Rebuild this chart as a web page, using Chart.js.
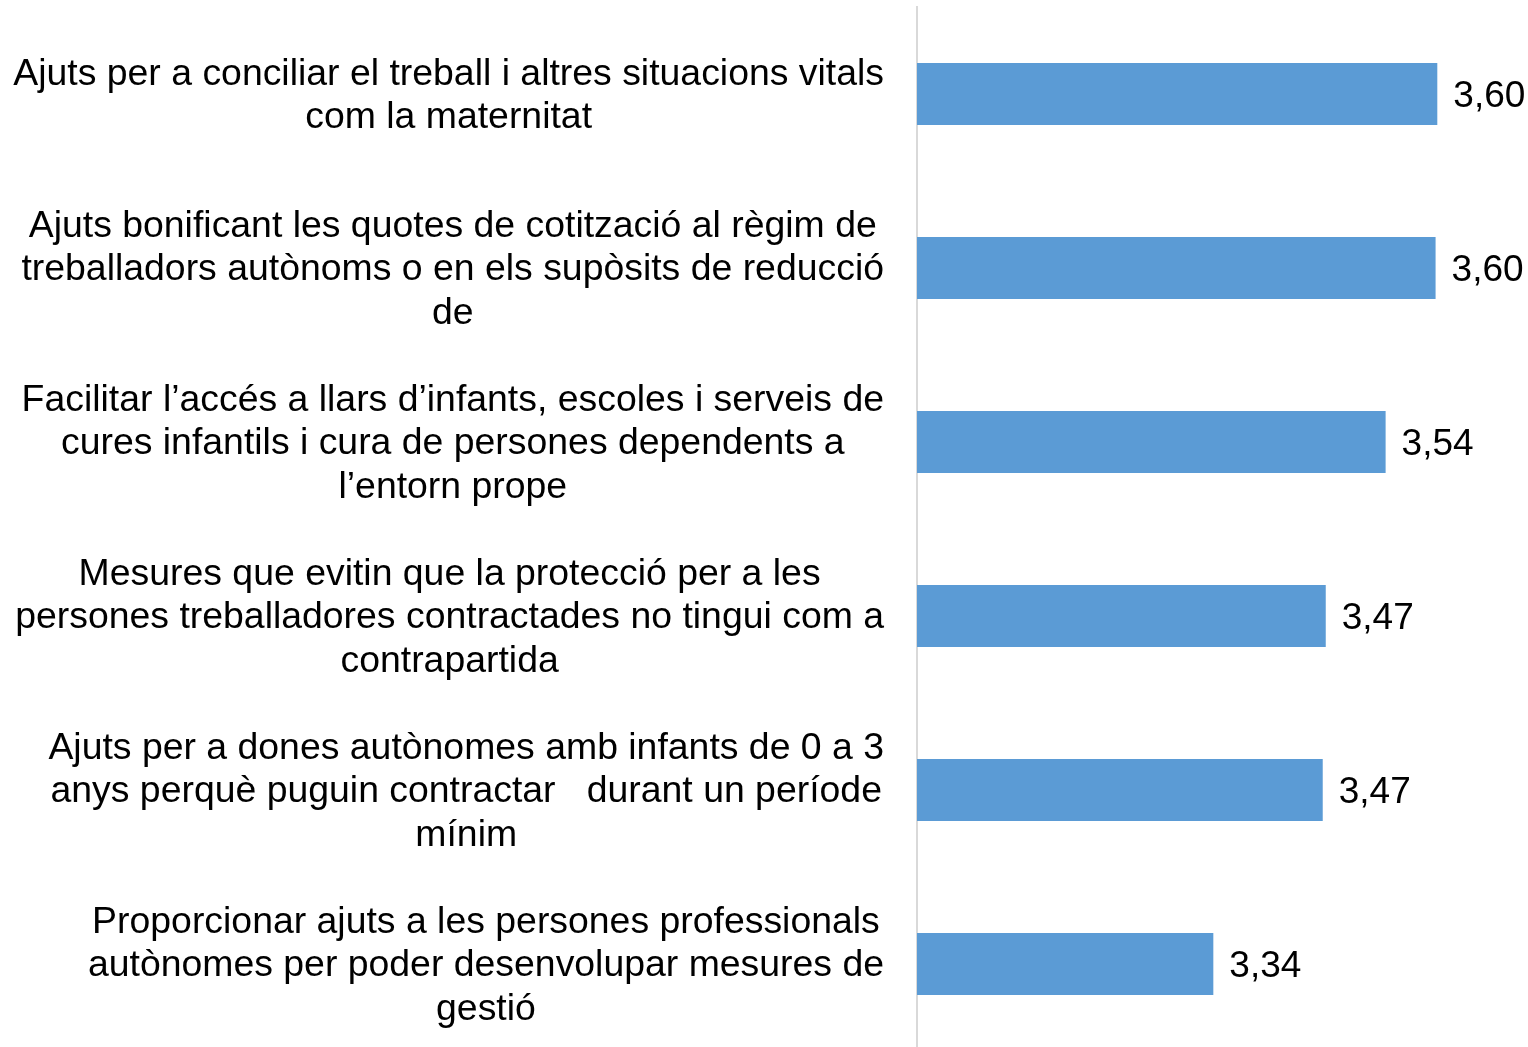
<!DOCTYPE html>
<html>
<head>
<meta charset="utf-8">
<script src="https://cdn.jsdelivr.net/npm/chart.js@4"></script>
<style>
  html, body { margin: 0; padding: 0; background: #fff; overflow: hidden; }
  #wrap { width: 1528px; height: 1055px; position: relative; }
</style>
</head>
<body>
<div id="wrap"><canvas id="grafico"></canvas></div>
<script>
const ctx = document.getElementById("grafico");

// categories (one line per array entry, as in the original)
const categorias = [
  ["Ajuts per a conciliar el treball i altres situacions vitals", "com la maternitat"],
  ["Ajuts bonificant les quotes de cotització al règim de", "treballadors autònoms o en els supòsits de reducció", "de"],
  ["Facilitar l\u2019accés a llars d\u2019infants, escoles i serveis de", "cures infantils i cura de persones dependents a", "l\u2019entorn prope"],
  ["Mesures que evitin que la protecció per a les", "persones treballadores contractades no tingui com a", "contrapartida"],
  ["Ajuts per a dones autònomes amb infants de 0 a 3", "anys perquè puguin contractar   durant un període", "mínim"],
  ["Proporcionar ajuts a les persones professionals", "autònomes per poder desenvolupar mesures de", "gestió"]
];
const valores = [3.604, 3.602, 3.544, 3.4745, 3.471, 3.344];

const FUENTE = "Arial, 'Liberation Sans', sans-serif";

// etiquetas del eje: bloque alineado a la derecha, cada línea centrada
const etiquetasEje = {
  id: "etiquetasEje",
  afterDraw(chart) {
    const c = chart.ctx;
    const y = chart.scales.y;
    const derecha = chart.chartArea.left - 33;
    c.save();
    c.font = "37.4px " + FUENTE;
    c.fillStyle = "#000";
    c.textAlign = "center";
    c.textBaseline = "middle";
    const alto = 43.5;
    categorias.forEach((lineas, i) => {
      const yc = y.getPixelForTick(i);
      let maxW = 0;
      lineas.forEach(l => { maxW = Math.max(maxW, c.measureText(l).width); });
      const xc = derecha - maxW / 2;
      const y0 = yc + 2 - (lineas.length - 1) * alto / 2;
      lineas.forEach((l, k) => c.fillText(l, xc, y0 + k * alto));
    });
    c.restore();
  }
};

// valores al final de cada barra
const etiquetasValor = {
  id: "etiquetasValor",
  afterDatasetsDraw(chart) {
    const c = chart.ctx;
    const meta = chart.getDatasetMeta(0);
    c.save();
    c.font = "37px " + FUENTE;
    c.fillStyle = "#000";
    c.textAlign = "left";
    c.textBaseline = "middle";
    meta.data.forEach((bar, i) => {
      c.fillText(valores[i].toFixed(2).replace(".", ","), bar.x + 16, bar.y + 3);
    });
    c.restore();
  }
};

new Chart(ctx, {
  type: "bar",
  data: {
    labels: categorias,
    datasets: [{
      data: valores,
      backgroundColor: "#5B9BD5",
      borderWidth: 0,
      categoryPercentage: 1,
      barPercentage: 0.356
    }]
  },
  options: {
    indexAxis: "y",
    responsive: true,
    maintainAspectRatio: false,
    animation: false,
    layout: { padding: { left: 909, right: 8, top: 7, bottom: 4 } },
    plugins: { legend: { display: false }, tooltip: { enabled: false } },
    scales: {
      x: {
        min: 3.0,
        max: 3.7,
        display: false
      },
      y: {
        grid: { display: false },
        border: { display: true, color: "#D9D9D9", width: 2 },
        ticks: { display: false }
      }
    }
  },
  plugins: [etiquetasEje, etiquetasValor]
});
</script>
</body>
</html>
